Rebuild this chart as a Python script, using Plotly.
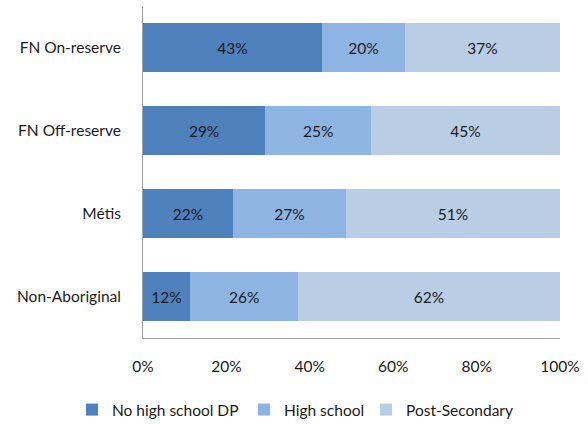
import plotly.graph_objects as go

categories = ["FN On-reserve", "FN Off-reserve", "Métis", "Non-Aboriginal"]
no_hs = [42.9, 29.3, 21.6, 11.3]
high_school = [19.9, 25.4, 27.1, 25.9]
post_sec = [37.2, 45.3, 51.3, 62.8]
no_hs_lbl = ["43%", "29%", "22%", "12%"]
hs_lbl = ["20%", "25%", "27%", "26%"]
ps_lbl = ["37%", "45%", "51%", "62%"]
series_names = ["No high school DP", "High school", "Post-Secondary"]
colors = ["#4F81BD", "#8EB4E3", "#B9CDE5"]
legend_ids = ["legend", "legend2", "legend3"]

fig = go.Figure()
for name, vals, lbls, col, lg in zip(series_names, [no_hs, high_school, post_sec],
                                     [no_hs_lbl, hs_lbl, ps_lbl], colors, legend_ids):
    fig.add_trace(go.Bar(
        y=categories, x=vals, name=name, orientation="h",
        marker=dict(color=col, line=dict(width=0)),
        text=lbls, textposition="inside", insidetextanchor="middle",
        textfont=dict(color="#1a1a1a", size=15.5),
        legend=lg,
    ))

leg_common = dict(orientation="h", xref="container", yref="container",
                  xanchor="left", y=0.033, yanchor="middle",
                  font=dict(size=15.5), itemwidth=30,
                  bgcolor="rgba(0,0,0,0)")
fig.update_layout(
    barmode="stack",
    bargap=0.42,
    width=588, height=424,
    margin=dict(l=143, r=28, t=6, b=86),
    paper_bgcolor="white", plot_bgcolor="white",
    font=dict(family="Lato, Open Sans, sans-serif", size=15.5, color="#1a1a1a"),
    showlegend=True,
    legend=dict(x=72 / 588, **leg_common),
    legend2=dict(x=244 / 588, **leg_common),
    legend3=dict(x=366 / 588, **leg_common),
    uniformtext=dict(mode="show", minsize=10),
)
fig.update_xaxes(range=[0, 100], tickvals=[0, 20, 40, 60, 80, 100],
                 ticktext=["0%", "20%", "40%", "60%", "80%", "100%"],
                 showgrid=False, showline=True, linecolor="#A0A0A0",
                 linewidth=1, ticks="", zeroline=False, ticklabelstandoff=14)
fig.update_yaxes(autorange="reversed", showgrid=False, showline=True,
                 linecolor="#A0A0A0", linewidth=1, ticks="",
                 ticklabelstandoff=18)

fig.write_html("out.html")
